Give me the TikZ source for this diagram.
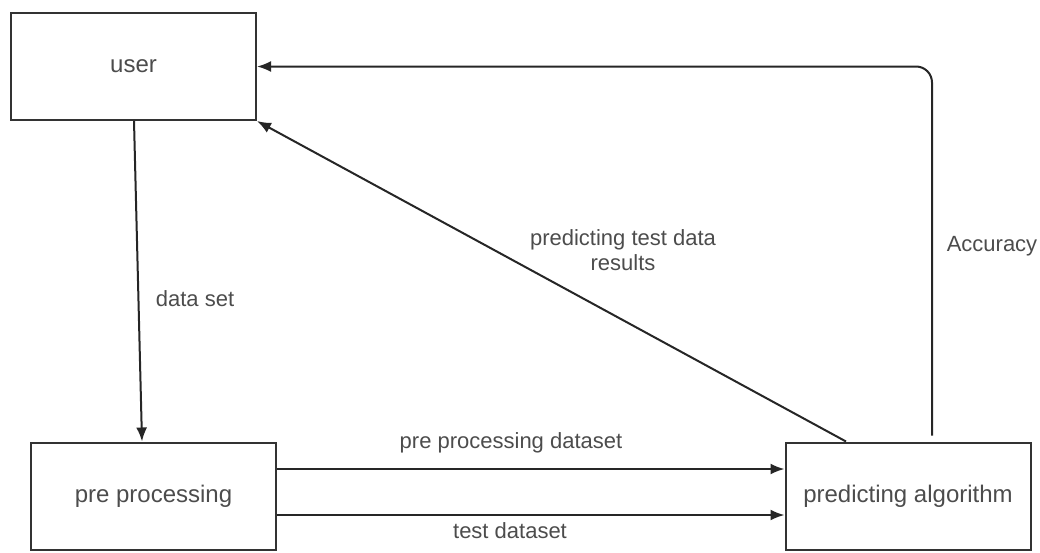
\documentclass[tikz,border=0pt]{standalone}
\usepackage{fontspec}
\setmainfont{Liberation Sans}
\usetikzlibrary{arrows.meta,positioning}

\tikzset{
  blockbox/.style={draw=black!80, line width=2pt, minimum width=245pt, minimum height=107pt,
    text=black!70, font=\fontsize{24}{28}\selectfont},
  flowlabel/.style={text=black!70, font=\fontsize{22}{25}\selectfont, align=center},
}

\begin{document}
\begin{tikzpicture}[x=1pt, y=-1pt, >={Latex[length=14pt,width=11pt]}]
\useasboundingbox (0,0) rectangle (1040,552);

%%%%%%%%%%%% Blocks
\node[blockbox] (user) at (133.5, 66.5) {user};
\node[blockbox] (preproc) at (153.5, 496) {pre processing};
\node[blockbox] (algo) at (908, 496) {predicting algorithm};

%%%%%%%%%%%% Flows
\begin{scope}[draw=black!85, line width=2pt]
  \draw[->] ([xshift=0.5pt]user.south) -- ([xshift=-11.5pt]preproc.north);
  \draw[->] ([yshift=27pt]preproc.east) -- ([yshift=27pt]algo.west);
  \draw[->] ([yshift=-19pt]preproc.east) -- ([yshift=-19pt]algo.west);
  \draw[->] ([xshift=-62pt]algo.north) -- (user.south east);
  \draw[->, rounded corners=16pt, shorten <=6pt] ([xshift=24pt]algo.north) |- (user.east);
\end{scope}

%%%%%%%%%%%% Labels
\node[flowlabel] (lset) at (195, 299) {data set};
\node[flowlabel] (lpre) at (511, 443) {pre processing dataset};
\node[flowlabel] (ltest) at (510, 531) {test dataset};
\node[flowlabel] (lres) at (623, 250) {predicting test data\\results};
\node[flowlabel] (lacc) at (992, 246) {Accuracy};
\end{tikzpicture}
\end{document}
